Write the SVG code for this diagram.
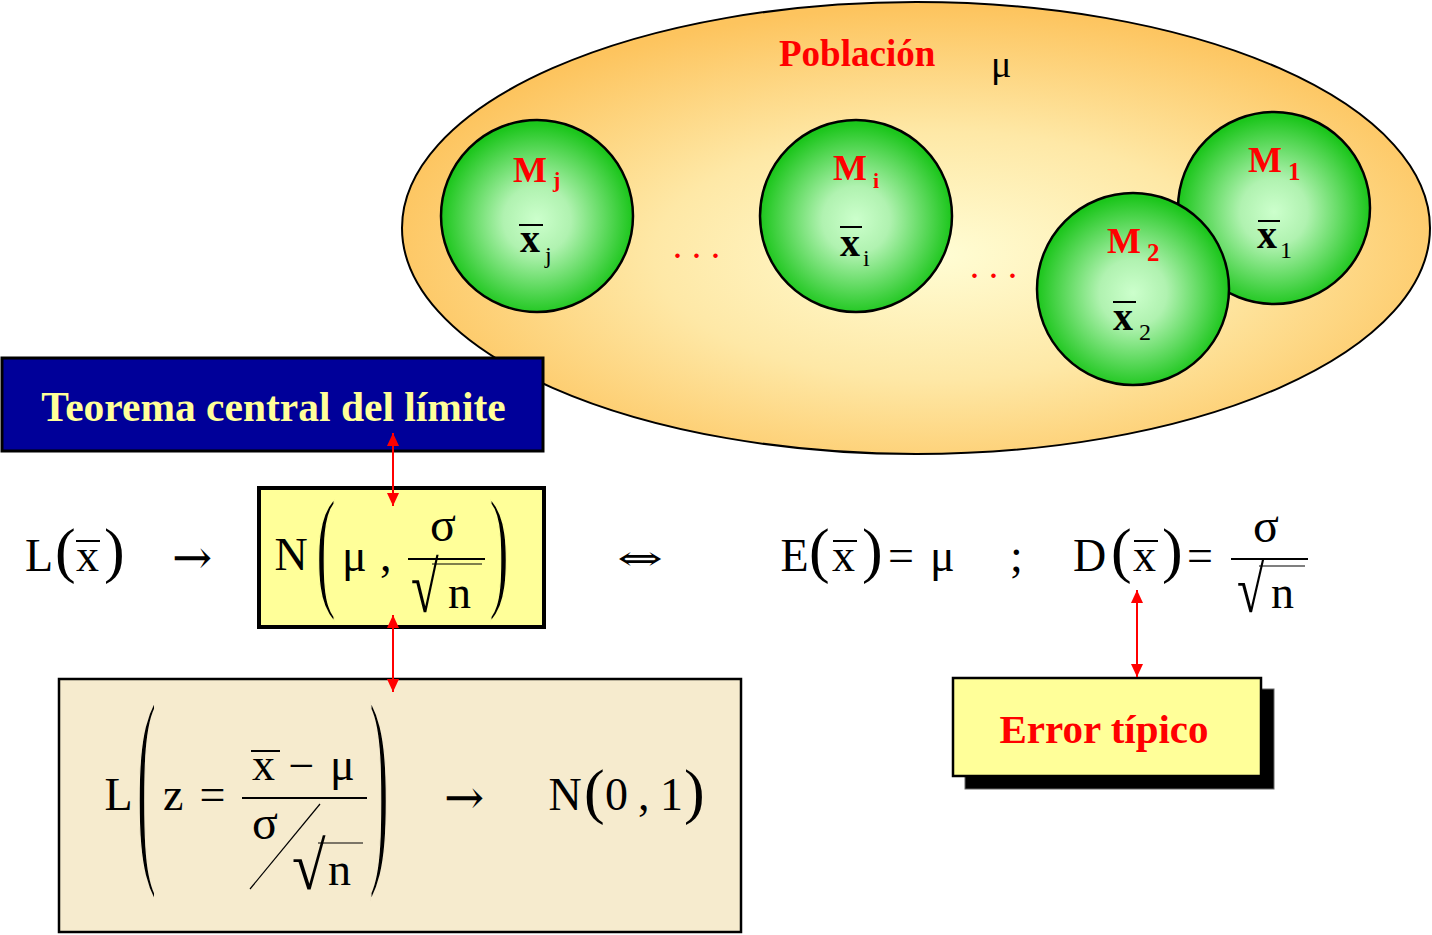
<svg xmlns="http://www.w3.org/2000/svg" width="1432" height="935" viewBox="0 0 1432 935">
<defs>
<radialGradient id="popGrad" cx="0.52" cy="0.56" r="0.55">
<stop offset="0" stop-color="#FFFDD4"/>
<stop offset="0.5" stop-color="#FEE8A6"/>
<stop offset="1" stop-color="#FDC45E"/>
</radialGradient>
<radialGradient id="greenGrad" cx="0.5" cy="0.52" r="0.5">
<stop offset="0" stop-color="#CCFFCC"/>
<stop offset="0.35" stop-color="#B0F2B0"/>
<stop offset="1" stop-color="#1CC61C"/>
</radialGradient>
<marker id="arr" viewBox="0 0 13 12" refX="13" refY="6" markerWidth="13" markerHeight="12" markerUnits="userSpaceOnUse" orient="auto-start-reverse">
<path d="M0,0 L13,6 L0,12 z" fill="#FF0000"/>
</marker>
</defs>
<style>
.m{font-family:"Liberation Serif","DejaVu Serif",serif;font-size:46px;fill:#000;}
.ar{font-family:"DejaVu Serif","DejaVu Sans",serif;font-size:48px;fill:#000;}
.rb{font-family:"Liberation Serif","DejaVu Serif",serif;font-weight:bold;fill:#FF0000;}
.kb{font-family:"Liberation Serif","DejaVu Serif",serif;font-weight:bold;fill:#000;}
.kr{font-family:"Liberation Serif","DejaVu Serif",serif;fill:#000;}
.bar{stroke:#000;stroke-width:2;}
.thin{stroke:#000;stroke-width:1.2;}
.sample{stroke:#000;stroke-width:2.5;fill:url(#greenGrad);}
.dots{font-family:"Liberation Serif",serif;font-weight:bold;font-size:28px;fill:#FF0000;letter-spacing:12px;}
.conn{stroke:#FF0000;stroke-width:2;fill:none;marker-start:url(#arr);marker-end:url(#arr);}
</style>

<g id="population">
<ellipse cx="916" cy="228" rx="514" ry="226" fill="url(#popGrad)" stroke="#000" stroke-width="2"/>
<text class="rb" x="779" y="66" style="font-size:37px">Población</text>
<text class="kr" x="991" y="77" style="font-size:38px">μ</text>
</g>

<g id="sample-j">
<circle class="sample" cx="537" cy="216" r="96"/>
<text class="rb" x="513" y="182" style="font-size:36px">M</text>
<text class="rb" x="553" y="187" style="font-size:22px">j</text>
<text class="kb" x="520" y="252" style="font-size:40px">x</text>
<line class="bar" x1="519" y1="225" x2="543" y2="225"/>
<text class="kr" x="545" y="263" style="font-size:24px">j</text>
</g>

<g id="sample-i">
<circle class="sample" cx="856" cy="216" r="96"/>
<text class="rb" x="833" y="180" style="font-size:36px">M</text>
<text class="rb" x="873" y="188" style="font-size:22px">i</text>
<text class="kb" x="840" y="256" style="font-size:40px">x</text>
<line class="bar" x1="840" y1="227" x2="862" y2="227"/>
<text class="kr" x="863" y="266" style="font-size:24px">i</text>
</g>

<g id="sample-1">
<circle class="sample" cx="1274" cy="208" r="96"/>
<text class="rb" x="1248" y="172" style="font-size:36px">M</text>
<text class="rb" x="1288" y="180" style="font-size:25px">1</text>
<text class="kb" x="1257" y="248" style="font-size:40px">x</text>
<line class="bar" x1="1258" y1="221" x2="1280" y2="221"/>
<text class="kr" x="1280" y="258" style="font-size:24px">1</text>
</g>

<g id="sample-2">
<circle class="sample" cx="1133" cy="289" r="96"/>
<text class="rb" x="1107" y="253" style="font-size:36px">M</text>
<text class="rb" x="1147" y="261" style="font-size:25px">2</text>
<text class="kb" x="1113" y="330" style="font-size:40px">x</text>
<line class="bar" x1="1113" y1="302" x2="1136" y2="302"/>
<text class="kr" x="1139" y="340" style="font-size:24px">2</text>
</g>

<g id="ellipsis">
<text class="dots" x="674" y="258">...</text>
<text class="dots" x="971" y="278">...</text>
</g>

<g id="tcl-box">
<rect x="2" y="358" width="541" height="93" fill="#000099" stroke="#000" stroke-width="3"/>
<text x="273.5" y="421" text-anchor="middle" style="font-family:'Liberation Serif',serif;font-weight:bold;font-size:41.5px;fill:#FFFF99">Teorema central del límite</text>
</g>

<g id="law-x">
<text class="m" x="25" y="571">L</text>
<text class="m" x="55" y="571" style="font-size:62px">(</text>
<text class="m" x="76" y="571">x</text>
<line class="bar" x1="76" y1="541" x2="100" y2="541"/>
<text class="m" x="104" y="571" style="font-size:62px">)</text>
<text class="ar" x="172" y="574">→</text>
</g>

<g id="normal-box">
<rect x="259" y="488" width="285" height="139" fill="#FFFF99" stroke="#000" stroke-width="4"/>
<text class="m" x="274.5" y="570">N</text>
<text class="m" transform="translate(316,593) scale(1,2.27)" style="font-size:60px;stroke:#FFFF99;stroke-width:1.1px">(</text>
<text class="m" x="342" y="571">μ</text>
<text class="m" x="380" y="571">,</text>
<text class="m" x="430" y="541" style="font-size:48px">σ</text>
<line class="bar" x1="408" y1="559" x2="485" y2="559"/>
<text class="m" transform="translate(411,612) scale(0.7,1)" style="font-size:72px">√</text>
<line class="thin" x1="432" y1="564" x2="482" y2="564"/>
<text class="m" x="448" y="608">n</text>
<text class="m" transform="translate(489,593) scale(1,2.27)" style="font-size:60px;stroke:#FFFF99;stroke-width:1.1px">)</text>
</g>

<g id="equiv">
<text class="ar" transform="translate(617,570) scale(1,0.62)" style="font-size:55px">⇔</text>
</g>

<g id="expectation">
<text class="m" x="780.5" y="571">E</text>
<text class="m" x="809" y="571" style="font-size:62px">(</text>
<text class="m" x="832" y="571">x</text>
<line class="bar" x1="833" y1="541" x2="857" y2="541"/>
<text class="m" x="862" y="571" style="font-size:62px">)</text>
<text class="m" x="888" y="571">=</text>
<text class="m" x="930" y="571">μ</text>
<text class="m" x="1010" y="571">;</text>
</g>

<g id="deviation">
<text class="m" x="1073" y="571">D</text>
<text class="m" x="1111" y="571" style="font-size:62px">(</text>
<text class="m" x="1133" y="571">x</text>
<line class="bar" x1="1134" y1="541" x2="1158" y2="541"/>
<text class="m" x="1162" y="571" style="font-size:62px">)</text>
<text class="m" x="1187" y="571">=</text>
<text class="m" x="1253" y="542" style="font-size:48px">σ</text>
<line class="bar" x1="1231" y1="559" x2="1308" y2="559"/>
<text class="m" transform="translate(1237,612) scale(0.75,1)" style="font-size:66px">√</text>
<line class="thin" x1="1259" y1="566" x2="1305" y2="566"/>
<text class="m" x="1271" y="608">n</text>
</g>

<g id="standard-box">
<rect x="59" y="679" width="682" height="253" fill="#F6EBCE" stroke="#000" stroke-width="2.5"/>
<text class="m" x="104.5" y="810">L</text>
<text class="m" transform="translate(136.5,854) scale(1,3.69)" style="font-size:60px;stroke:#F6EBCE;stroke-width:1.1px">(</text>
<text class="m" x="163" y="810">z</text>
<text class="m" x="199.5" y="810">=</text>
<text class="m" x="252" y="780">x</text>
<line class="bar" x1="251" y1="751" x2="280" y2="751"/>
<text class="m" x="288.5" y="781">−</text>
<text class="m" x="330" y="780">μ</text>
<line class="bar" x1="242" y1="798" x2="367" y2="798"/>
<text class="m" x="252" y="839" style="font-size:48px">σ</text>
<line class="thin" x1="320" y1="804" x2="250" y2="889"/>
<text class="m" transform="translate(292,889) scale(0.9,1)" style="font-size:68px">√</text>
<line class="thin" x1="318" y1="843" x2="363" y2="843"/>
<text class="m" x="328" y="885">n</text>
<text class="m" transform="translate(369,854) scale(1,3.69)" style="font-size:60px;stroke:#F6EBCE;stroke-width:1.1px">)</text>
<text class="ar" x="444" y="814">→</text>
<text class="m" x="548.5" y="810">N</text>
<text class="m" x="584" y="812" style="font-size:62px">(</text>
<text class="m" x="605" y="810">0</text>
<text class="m" x="638" y="810">,</text>
<text class="m" x="660" y="810">1</text>
<text class="m" x="684" y="812" style="font-size:62px">)</text>
</g>

<g id="error-box">
<rect x="965" y="689" width="309" height="100" fill="#000" stroke="#666" stroke-width="1"/>
<rect x="953" y="678" width="308" height="98" fill="#FFFF99" stroke="#000" stroke-width="2.5"/>
<text class="rb" x="1104" y="743" text-anchor="middle" style="font-size:41px">Error típico</text>
</g>

<g id="connectors">
<line class="conn" x1="393" y1="433" x2="393" y2="506"/>
<line class="conn" x1="393" y1="615" x2="393" y2="692"/>
<line class="conn" x1="1137" y1="590" x2="1137" y2="677"/>
</g>
</svg>
